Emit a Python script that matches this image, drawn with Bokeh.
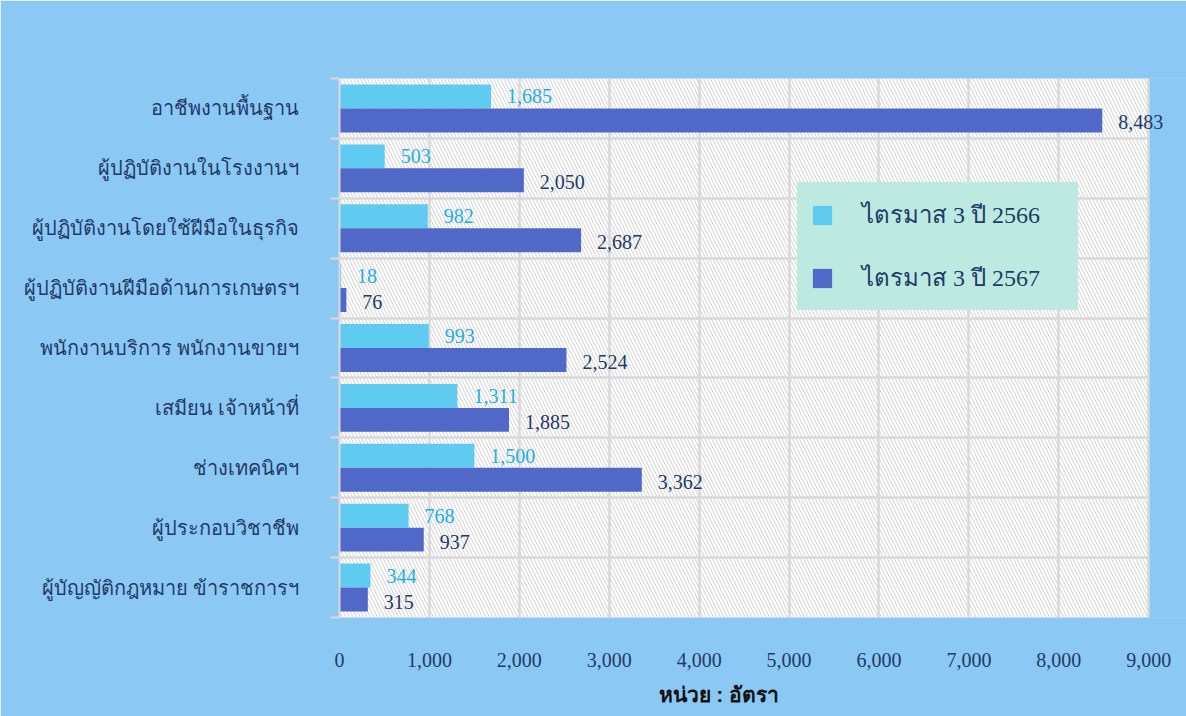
from bokeh.plotting import figure
from bokeh.models import (ColumnDataSource, FixedTicker, Label, BoxAnnotation,
                          Legend, LegendItem, Title, NumeralTickFormatter, Span)
from bokeh.transform import dodge
from bokeh.embed import file_html
from bokeh.resources import INLINE

categories = [
    "อาชีพงานพื้นฐาน",
    "ผู้ปฏิบัติงานในโรงงานฯ",
    "ผู้ปฏิบัติงานโดยใช้ฝีมือในธุรกิจ",
    "ผู้ปฏิบัติงานฝีมือด้านการเกษตรฯ",
    "พนักงานบริการ พนักงานขายฯ",
    "เสมียน เจ้าหน้าที่",
    "ช่างเทคนิคฯ",
    "ผู้ประกอบวิชาชีพ",
    "ผู้บัญญัติกฎหมาย ข้าราชการฯ",
]
series_names = ["ไตรมาส 3 ปี 2566", "ไตรมาส 3 ปี 2567"]
vals_2566 = [1685, 503, 982, 18, 993, 1311, 1500, 768, 344]
vals_2567 = [8483, 2050, 2687, 76, 2524, 1885, 3362, 937, 315]
x_ticks = [0, 1000, 2000, 3000, 4000, 5000, 6000, 7000, 8000, 9000]
x_label = "หน่วย : อัตรา"

LIGHT = "#5FCBF1"
DARK = "#5068C8"
NAVY = "#1F3A68"
LIGHT_TXT = "#1EAEE6"
SERIF = "Liberation Serif"
GRID = "#D9D9D9"
BLUE_BG = "#8CC8F4"

AXIS_MAX = x_ticks[-1]
# the frame continues a little past the last tick so that the longest
# value label is not clipped; that strip is painted like the border
VIEW_MAX = 9420

n = len(categories)
centers = [n - i - 0.5 for i in range(n)]
boundaries = list(range(n + 1))
OFF = 0.2  # half distance between the two bars of a group

source = ColumnDataSource(dict(y=centers, v1=vals_2566, v2=vals_2567))

p = figure(width=1186, height=716, x_range=(0, VIEW_MAX), y_range=(0, n),
           output_backend="svg", toolbar_location=None,
           min_border_left=339, min_border_right=0, min_border_top=78,
           min_border_bottom=97)
p.background_fill_color = BLUE_BG
p.border_fill_color = BLUE_BG
p.outline_line_color = None

bg = BoxAnnotation(left=0, right=AXIS_MAX, fill_color="white", fill_alpha=1.0,
                   line_color=None, hatch_pattern="left_diagonal_line",
                   hatch_color="#DADADA", hatch_scale=7, hatch_weight=1.2,
                   level="image")
p.add_layout(bg)

r1 = p.hbar(y=dodge("y", OFF, range=p.y_range), right="v1", left=0, height=0.4,
            fill_color=LIGHT, line_color=None, source=source)
r2 = p.hbar(y=dodge("y", -OFF, range=p.y_range), right="v2", left=0, height=0.4,
            fill_color=DARK, line_color=None, source=source)

# cover grid lines beyond the last tick
cover = BoxAnnotation(left=AXIS_MAX, bottom=-0.1, top=n + 0.1,
                      fill_color=BLUE_BG, fill_alpha=1.0,
                      line_color=None, level="guide")
p.add_layout(cover)
p.add_layout(Span(location=AXIS_MAX, dimension="height", line_color=GRID,
                  line_width=2, level="guide"))

# value labels
for c, a, b in zip(centers, vals_2566, vals_2567):
    p.add_layout(Label(x=a, y=c + OFF, text=f"{a:,}", x_offset=16, y_offset=0,
                       text_baseline="middle", text_color=LIGHT_TXT,
                       text_font=SERIF, text_font_size="20px"))
    p.add_layout(Label(x=b, y=c - OFF, text=f"{b:,}", x_offset=16, y_offset=-2,
                       text_baseline="middle", text_color=NAVY,
                       text_font=SERIF, text_font_size="20px"))

# x axis
p.xaxis.ticker = FixedTicker(ticks=x_ticks)
p.xaxis.formatter = NumeralTickFormatter(format="0,0")
p.xaxis.major_tick_line_color = None
p.xaxis.minor_tick_line_color = None
p.xaxis.major_tick_out = 0
p.xaxis.axis_line_color = None
p.xaxis.major_label_standoff = 35
p.xaxis.major_label_text_font = SERIF
p.xaxis.major_label_text_font_size = "20px"
p.xaxis.major_label_text_color = NAVY

# y axis
p.yaxis.ticker = FixedTicker(ticks=centers, minor_ticks=boundaries)
p.yaxis.major_label_overrides = {c: cat for c, cat in zip(centers, categories)}
p.yaxis.major_tick_line_color = None
p.yaxis.major_tick_out = 0
p.yaxis.major_tick_in = 0
p.yaxis.minor_tick_line_color = GRID
p.yaxis.minor_tick_line_width = 2
p.yaxis.minor_tick_out = 9
p.yaxis.minor_tick_in = 0
p.yaxis.axis_line_color = GRID
p.yaxis.axis_line_width = 2
p.yaxis.major_label_standoff = 32
p.yaxis.major_label_text_font = SERIF
p.yaxis.major_label_text_font_size = "20px"
p.yaxis.major_label_text_color = NAVY

# grids
p.xgrid.ticker = FixedTicker(ticks=x_ticks)
p.ygrid.ticker = FixedTicker(ticks=boundaries)
for g in (p.xgrid, p.ygrid):
    g.grid_line_color = GRID
    g.grid_line_width = 2.5

# unit caption under the axis
p.add_layout(Title(text=x_label, align="left", offset=319, standoff=22,
                   text_font_size="21px", text_font_style="bold",
                   text_color="#111111", text_font="Liberation Sans"), "below")

legend = Legend(items=[LegendItem(label=series_names[0], renderers=[r1]),
                       LegendItem(label=series_names[1], renderers=[r2])],
                location=(458, 307), orientation="vertical",
                background_fill_color="#BDEAE0", background_fill_alpha=1.0,
                border_line_color="#BDEAE0", border_line_width=1,
                padding=12, spacing=24,
                glyph_width=24, glyph_height=24, label_standoff=28,
                label_width=203, label_text_font=SERIF,
                label_text_font_size="24px", label_text_color=NAVY)
p.add_layout(legend)

open("out.html", "w").write(file_html(p, INLINE))
